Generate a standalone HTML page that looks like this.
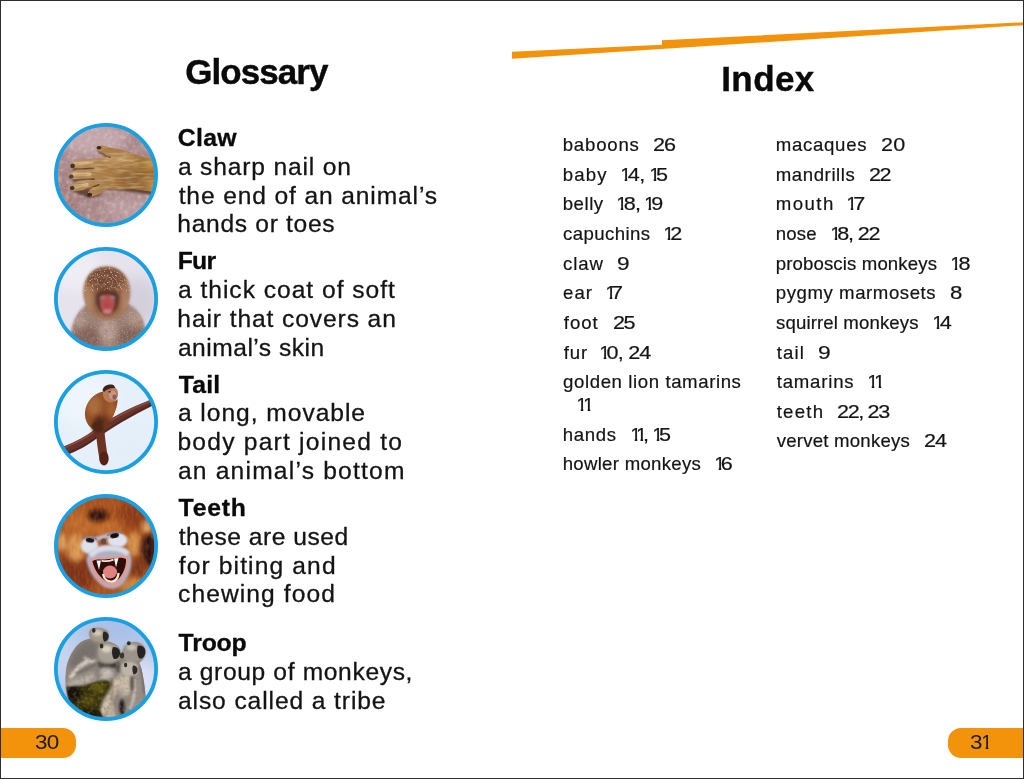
<!DOCTYPE html>
<html lang="en">
<head>
<meta charset="utf-8">
<title>Glossary and Index</title>
<style>
html,body{margin:0;padding:0;background:#fff;}
body{width:1024px;height:779px;overflow:hidden;position:relative;font-family:"Liberation Sans",sans-serif;color:#151313;}
#page{position:absolute;left:0;top:0;width:1024px;height:779px;background:#fff;overflow:hidden;}
#frame{position:absolute;left:0;top:0;width:1022px;height:777px;border:1px solid #2e2e2e;pointer-events:none;}
#swoosh{position:absolute;left:0;top:0;}
h1,p,div,span{margin:0;padding:0;}
.h1,.term,.def,.ix,.pn{position:absolute;white-space:nowrap;display:block;}
.h1{font-weight:bold;font-size:35.0px;line-height:35.0px;color:#0a0a0a;-webkit-text-stroke:0.4px #0a0a0a;}
.term{font-weight:bold;font-size:24.8px;line-height:24.8px;color:#0a0a0a;-webkit-text-stroke:0.3px #0a0a0a;}
.def{font-size:24.6px;line-height:24.6px;-webkit-text-stroke:0.3px #151313;}
.ix{font-size:18.6px;line-height:18.6px;-webkit-text-stroke:0.2px #151313;}
.ix i,.pn i{font-style:normal;display:inline-block;letter-spacing:0;transform:scaleX(.88);margin:0 calc(var(--ls,0px) - 0.173em) 0 -0.088em;clip-path:polygon(0 0,100% 0,100% 69%,65% 69%,65% 100%,41% 100%,41% 69%,0 69%)}
.pn{font-size:19.4px;line-height:19.4px;color:#1c1c1c;}
.tab{position:absolute;top:728px;height:30px;background:#f3920b;}
.photo{position:absolute;left:54px;width:104px;height:104px;overflow:visible;}
</style>
</head>
<body>
<div id="page">
<svg id="swoosh" width="1024" height="70" viewBox="0 0 1024 70"><polygon points="512,51.7 662,44.8 662,40.3 1024,22.3 1024,25.2 512,58.8" fill="#f3920b"/></svg>
<div class="tab" style="left:0;width:76px;border-radius:0 13px 13px 0"></div>
<div class="tab" style="left:948px;width:76px;border-radius:13px 0 0 13px"></div>
<!-- Glossary -->
<section id="glossary">
<h1 class="h1" id="hg" style="left:185.17px;top:54.00px;letter-spacing:-0.934px">Glossary</h1>
<div class="term" id="t1" style="left:177.80px;top:126.00px;letter-spacing:0.306px">Claw</div>
<div class="def" id="d1a" style="left:177.94px;top:155.00px;letter-spacing:0.825px">a sharp nail on</div>
<div class="def" id="d1b" style="left:178.68px;top:184.00px;letter-spacing:0.869px">the end of an animal’s</div>
<div class="def" id="d1c" style="left:177.33px;top:212.00px;letter-spacing:0.688px">hands or toes</div>
<div class="term" id="t2" style="left:177.78px;top:249.00px;letter-spacing:-0.792px">Fur</div>
<div class="def" id="d2a" style="left:177.94px;top:278.00px;letter-spacing:0.986px">a thick coat of soft</div>
<div class="def" id="d2b" style="left:177.33px;top:307.00px;letter-spacing:0.899px">hair that covers an</div>
<div class="def" id="d2c" style="left:177.94px;top:336.00px;letter-spacing:0.492px">animal’s skin</div>
<div class="term" id="t3" style="left:178.68px;top:373.00px;letter-spacing:0.217px">Tail</div>
<div class="def" id="d3a" style="left:177.94px;top:401.00px;letter-spacing:0.963px">a long, movable</div>
<div class="def" id="d3b" style="left:177.43px;top:430.00px;letter-spacing:1.232px">body part joined to</div>
<div class="def" id="d3c" style="left:177.94px;top:459.00px;letter-spacing:1.205px">an animal’s bottom</div>
<div class="term" id="t4" style="left:178.58px;top:496.00px;letter-spacing:0.749px">Teeth</div>
<div class="def" id="d4a" style="left:178.68px;top:525.00px;letter-spacing:0.522px">these are used</div>
<div class="def" id="d4b" style="left:178.71px;top:554.00px;letter-spacing:1.13px">for biting and</div>
<div class="def" id="d4c" style="left:178.00px;top:582.00px;letter-spacing:1.094px">chewing food</div>
<div class="term" id="t5" style="left:178.58px;top:631.00px;letter-spacing:-0.181px">Troop</div>
<div class="def" id="d5a" style="left:177.94px;top:660.00px;letter-spacing:0.648px">a group of monkeys,</div>
<div class="def" id="d5b" style="left:177.94px;top:689.00px;letter-spacing:0.899px">also called a tribe</div>
<svg class="photo" id="ph-claw" style="top:123.4px" viewBox="0 0 104 104" role="img" aria-label="Claw">
<defs>
<clipPath id="c1"><circle cx="52" cy="52" r="49"/></clipPath>
<path id="hand1" d="M104 33 L92 35.5 L80 32 L69 28 L58 26 L48 23.5 L43.5 24.5 L43 27.5 L47 31 L54 34.5 L50 36 L40 36.3 L23 38 L17.5 40.5 L16.3 44 L19 46.8 L30 46.6 L22 48.2 L16 51 L15 54.5 L17.5 57.3 L30 57.4 L23 59.4 L17 62.4 L16 66 L18.5 68.8 L30 68 L38 65.5 L34.5 69.5 L33.3 72.5 L36.5 74.6 L46 72 L52.5 66.8 L64 67.5 L80 67 L104 70.5 Z"/>
<clipPath id="hc1"><use href="#hand1"/></clipPath>
<filter id="n1" x="0" y="0" width="100%" height="100%">
<feTurbulence type="fractalNoise" baseFrequency="0.13" numOctaves="3" seed="4" result="t"/>
<feColorMatrix in="t" type="matrix" values="0 0 0 0 0.56  0 0 0 0 0.40  0 0 0 0 0.40  1.8 0 0 0 -0.6"/>
</filter>
<filter id="n1b" x="0" y="0" width="100%" height="100%">
<feTurbulence type="fractalNoise" baseFrequency="0.24" numOctaves="2" seed="9" result="t"/>
<feColorMatrix in="t" type="matrix" values="0 0 0 0 0.86  0 0 0 0 0.76  0 0 0 0 0.78  0 2 0 0 -0.9"/>
</filter>
<filter id="n1f" x="0" y="0" width="100%" height="100%">
<feTurbulence type="fractalNoise" baseFrequency="0.07 0.4" numOctaves="2" seed="3" result="t"/>
<feColorMatrix in="t" type="matrix" values="0 0 0 0 0.36  0 0 0 0 0.22  0 0 0 0 0.10  2.6 0 0 0 -1.05"/>
</filter>
<filter id="n1g" x="0" y="0" width="100%" height="100%">
<feTurbulence type="fractalNoise" baseFrequency="0.08 0.45" numOctaves="2" seed="12" result="t"/>
<feColorMatrix in="t" type="matrix" values="0 0 0 0 0.92  0 0 0 0 0.76  0 0 0 0 0.5  0 2.6 0 0 -1.15"/>
</filter>
<filter id="b1" filterUnits="userSpaceOnUse" x="-12" y="-12" width="128" height="128"><feGaussianBlur stdDeviation="1.3"/></filter>
<filter id="b1s" filterUnits="userSpaceOnUse" x="-12" y="-12" width="128" height="128"><feGaussianBlur stdDeviation="0.7"/></filter>
<filter id="b1m" filterUnits="userSpaceOnUse" x="-12" y="-12" width="128" height="128"><feGaussianBlur stdDeviation="2.5"/></filter>
<filter id="b1l" filterUnits="userSpaceOnUse" x="-12" y="-12" width="128" height="128"><feGaussianBlur stdDeviation="5"/></filter>
<linearGradient id="g1" x1="0" y1="0" x2="1" y2="0"><stop offset="0" stop-color="#bd9260"/><stop offset="0.45" stop-color="#aa7a42"/><stop offset="1" stop-color="#9a6a2c"/></linearGradient>
</defs>
<g clip-path="url(#c1)">
<rect width="104" height="104" fill="#a68586"/>
<ellipse cx="38" cy="16" rx="36" ry="16" fill="#c2a6ab" filter="url(#b1l)"/>
<ellipse cx="18" cy="74" rx="16" ry="22" fill="#a17b7a" filter="url(#b1l)"/>
<ellipse cx="78" cy="86" rx="28" ry="12" fill="#b99a9c" filter="url(#b1l)"/>
<ellipse cx="88" cy="20" rx="14" ry="12" fill="#a58587" filter="url(#b1l)"/>
<rect width="104" height="104" filter="url(#n1)" opacity="0.55"/>
<rect width="104" height="104" filter="url(#n1b)" opacity="0.42"/>
<g transform="translate(0 -0.9)">
<!-- shadow under hand -->
<path d="M17 46 L36 47 L20 49 Z M16 57 L36 58 L20 60 Z M17 68.5 L40 66 L50 64 L46 73.5 L35 76 Z M50 67 L70 69 L99 73 L99 66 L60 61 Z M43 26 L56 33.5 L54 36.5 L44 30 Z" fill="#4e3026" filter="url(#b1)" opacity="0.8"/>
<!-- arm and hand -->
<use href="#hand1" fill="url(#g1)" filter="url(#b1s)"/>
<g clip-path="url(#hc1)">
<ellipse cx="84" cy="57" rx="22" ry="9" fill="#8f6230" opacity="0.75" filter="url(#b1m)"/>
<ellipse cx="64" cy="37" rx="18" ry="5" fill="#d2ab74" opacity="0.7" filter="url(#b1m)"/>
<ellipse cx="97" cy="42" rx="7" ry="6" fill="#c99848" opacity="0.8" filter="url(#b1m)"/>
<ellipse cx="98" cy="63" rx="5" ry="8" fill="#cba050" opacity="0.7" filter="url(#b1m)"/>
<path d="M21 41.5 L38 40 M20 52.5 L36 52 M21 64 L33 62.5" stroke="#dcbd8e" stroke-width="3.4" stroke-linecap="round" filter="url(#b1s)" opacity="0.85" fill="none"/>
<path d="M20 47 L40 46.2 M19 57.6 L40 57.2 M30 68.4 L45 62.5 M46 30.5 L56 35" stroke="#4a2c1e" stroke-width="1.5" stroke-linecap="round" filter="url(#b1s)" opacity="0.85" fill="none"/>
<rect width="104" height="104" filter="url(#n1f)" opacity="0.85"/>
<rect width="104" height="104" filter="url(#n1g)" opacity="0.35"/>
</g>
<!-- nails / tips -->
<ellipse cx="18.6" cy="43.8" rx="2.4" ry="2.2" fill="#463024" filter="url(#b1s)"/>
<ellipse cx="17.2" cy="54.6" rx="2.3" ry="2.1" fill="#56402f" filter="url(#b1s)"/>
<ellipse cx="18.2" cy="66" rx="2.3" ry="2.1" fill="#463024" filter="url(#b1s)"/>
<ellipse cx="35.6" cy="72.6" rx="2.6" ry="2" fill="#3a261c" filter="url(#b1s)"/>
<ellipse cx="45" cy="25.6" rx="2.4" ry="1.7" fill="#3a2620" filter="url(#b1s)"/>
</g>
</g>
<circle cx="52" cy="52" r="50.1" fill="none" stroke="#1b9fe3" stroke-width="3.8"/>
</svg>
<svg class="photo" id="ph-fur" style="top:246.9px" viewBox="0 0 104 104" role="img" aria-label="Fur">
<defs>
<clipPath id="c2"><circle cx="52" cy="52" r="49"/></clipPath>
<path id="body2" d="M15 104 C15 84 21 66 32 58 C40 53 66 53 74 57 C87 63 94 80 94 104 Z"/>
<path id="head2" d="M52.5 19.5 C66.5 19.5 76 30.5 76 45 C76 60 66.5 72.5 53 72.5 C39.5 72.5 29.5 60 29.5 45 C29.5 30.5 38.5 19.5 52.5 19.5 Z"/>
<clipPath id="bc2"><use href="#body2"/></clipPath>
<clipPath id="hc2"><use href="#head2"/></clipPath>
<filter id="b2" filterUnits="userSpaceOnUse" x="-12" y="-12" width="128" height="128"><feGaussianBlur stdDeviation="1.5"/></filter>
<filter id="b2s" filterUnits="userSpaceOnUse" x="-12" y="-12" width="128" height="128"><feGaussianBlur stdDeviation="0.8"/></filter>
<filter id="b2m" filterUnits="userSpaceOnUse" x="-12" y="-12" width="128" height="128"><feGaussianBlur stdDeviation="3"/></filter>
<filter id="b2l" filterUnits="userSpaceOnUse" x="-12" y="-12" width="128" height="128"><feGaussianBlur stdDeviation="7"/></filter>
<filter id="n2" x="0" y="0" width="100%" height="100%">
<feTurbulence type="fractalNoise" baseFrequency="0.22" numOctaves="2" seed="5" result="t"/>
<feColorMatrix in="t" type="matrix" values="0 0 0 0 0.32  0 0 0 0 0.2  0 0 0 0 0.17  2.4 0 0 0 -1.0"/>
</filter>
<filter id="n2w" x="0" y="0" width="100%" height="100%">
<feTurbulence type="fractalNoise" baseFrequency="0.6" numOctaves="2" seed="8" result="t"/>
<feColorMatrix in="t" type="matrix" values="0 0 0 0 0.93  0 0 0 0 0.88  0 0 0 0 0.88  0 3.4 0 0 -1.8"/>
</filter>
<radialGradient id="g2h" cx="0.5" cy="0.42" r="0.62"><stop offset="0" stop-color="#784a35"/><stop offset="0.6" stop-color="#8e5c3b"/><stop offset="1" stop-color="#ab7d58"/></radialGradient>
</defs>
<g clip-path="url(#c2)">
<rect width="104" height="104" fill="#e6e3ed"/>
<ellipse cx="84" cy="56" rx="22" ry="26" fill="#d3d0dc" filter="url(#b2l)"/>
<ellipse cx="22" cy="24" rx="26" ry="20" fill="#efedf4" filter="url(#b2l)"/>
<!-- body -->
<use href="#body2" fill="#9c7f73" filter="url(#b2)"/>
<g clip-path="url(#bc2)">
<ellipse cx="34" cy="92" rx="14" ry="12" fill="#7e5f55" opacity="0.85" filter="url(#b2m)"/>
<ellipse cx="76" cy="90" rx="14" ry="10" fill="#7c5d53" opacity="0.85" filter="url(#b2m)"/>
<ellipse cx="54" cy="84" rx="9" ry="12" fill="#bfa69c" opacity="0.8" filter="url(#b2m)"/>
<ellipse cx="82" cy="70" rx="8" ry="8" fill="#bb9e8f" opacity="0.8" filter="url(#b2m)"/>
<ellipse cx="25" cy="72" rx="7" ry="8" fill="#b9a094" opacity="0.8" filter="url(#b2m)"/>
<rect width="104" height="104" filter="url(#n2)" opacity="0.55"/>
<rect width="104" height="104" filter="url(#n2w)" opacity="0.28"/>
</g>
<!-- head -->
<use href="#head2" fill="url(#g2h)" filter="url(#b2)"/>
<g clip-path="url(#hc2)">
<ellipse cx="52" cy="31" rx="18" ry="10" fill="#70452f" opacity="0.8" filter="url(#b2m)"/>
<ellipse cx="34.5" cy="52" rx="5" ry="14" fill="#bd9270" opacity="0.8" filter="url(#b2m)"/>
<ellipse cx="71.5" cy="52" rx="5" ry="14" fill="#ba8d6a" opacity="0.8" filter="url(#b2m)"/>
<rect width="104" height="104" filter="url(#n2)" opacity="0.45"/>
<rect y="0" width="104" height="44" filter="url(#n2w)" opacity="0.6"/>
</g>
<!-- face -->
<path d="M42 50 C42 45.5 47 44.5 53 44.5 C59 44.5 65 45.5 65 50 C66 58 62 66 53.5 68 C45 66 41 58 42 50 Z" fill="#50302a" filter="url(#b2)" opacity="0.85"/>
<path d="M46 51 C46 48.2 48.6 47.2 53.3 47.2 C58 47.2 60.8 48.2 60.8 51 C61.3 57 59.8 62.5 58 65 C56.6 67 50.2 67 48.8 65 C47 62.5 45.5 57 46 51 Z" fill="#b9504e" filter="url(#b2s)"/>
<ellipse cx="53.4" cy="64.4" rx="4.2" ry="2.6" fill="#c87c83" filter="url(#b2s)"/>
<ellipse cx="53.4" cy="58" rx="3.2" ry="2.8" fill="#b1464b" filter="url(#b2s)"/>
<ellipse cx="48.8" cy="50.8" rx="2.5" ry="1.8" fill="#7d8685" filter="url(#b2s)"/>
<ellipse cx="58.4" cy="50.8" rx="2.5" ry="1.8" fill="#7d8685" filter="url(#b2s)"/>
<path d="M45 47 C49 45 58 45 62 47" stroke="#5a3328" stroke-width="1.8" fill="none" filter="url(#b2s)"/>
</g>
<circle cx="52" cy="52" r="50.1" fill="none" stroke="#1b9fe3" stroke-width="3.8"/>
</svg>
<svg class="photo" id="ph-tail" style="top:370.4px" viewBox="0 0 104 104" role="img" aria-label="Tail">
<defs>
<clipPath id="c3"><circle cx="52" cy="52" r="49"/></clipPath>
<filter id="b3" filterUnits="userSpaceOnUse" x="-12" y="-12" width="128" height="128"><feGaussianBlur stdDeviation="1.2"/></filter>
<filter id="b3s" filterUnits="userSpaceOnUse" x="-12" y="-12" width="128" height="128"><feGaussianBlur stdDeviation="0.6"/></filter>
<filter id="b3m" filterUnits="userSpaceOnUse" x="-12" y="-12" width="128" height="128"><feGaussianBlur stdDeviation="2.4"/></filter>
<filter id="b3l" filterUnits="userSpaceOnUse" x="-12" y="-12" width="128" height="128"><feGaussianBlur stdDeviation="8"/></filter>
<filter id="n3" x="0" y="0" width="100%" height="100%">
<feTurbulence type="fractalNoise" baseFrequency="0.3" numOctaves="2" seed="2" result="t"/>
<feColorMatrix in="t" type="matrix" values="0 0 0 0 0.25  0 0 0 0 0.10  0 0 0 0 0.08  2.4 0 0 0 -1.0"/>
</filter>
<path id="body3" d="M49 21.5 C40 23 32 32 31 42 C30.5 49 33 55 38 58.5 L44 62 L50 61 L56 52 C60 45 64 36 63.5 29 C60 33 54 31 51 27 Z"/>
<clipPath id="bc3"><use href="#body3"/></clipPath>
<linearGradient id="g3" x1="0" y1="0" x2="1" y2="1"><stop offset="0" stop-color="#93532b"/><stop offset="0.5" stop-color="#955226"/><stop offset="1" stop-color="#6c341b"/></linearGradient>
</defs>
<g clip-path="url(#c3)">
<rect width="104" height="104" fill="#e5f0fa"/>
<ellipse cx="30" cy="30" rx="30" ry="26" fill="#eef5fc" filter="url(#b3l)"/>
<ellipse cx="80" cy="82" rx="26" ry="20" fill="#e3eef9" filter="url(#b3l)"/>
<!-- branch -->
<path d="M9.5 76.5 C22 71.5 32 66 40 60 C52 51 68 41 97 29.5 L98.5 35.5 C70 49.5 54 60 41 69.5 C33 75.5 24 80.5 12 85.5 Z" fill="#673229" filter="url(#b3s)"/>
<path d="M11 77.5 C23 72.5 33 67 41 61 C53 52 69 42 97 30.8" stroke="#8d5240" stroke-width="1.8" fill="none" opacity="0.8" filter="url(#b3s)"/>
<path d="M12 84 C24 79.5 33 74.5 41 68.5 C54 59 70 48.5 98.5 34.5" stroke="#4a221b" stroke-width="2" fill="none" opacity="0.7" filter="url(#b3s)"/>
<!-- tail -->
<path d="M46 58 C46.6 70 48 79 50 90" stroke="#6e3320" stroke-width="8.6" fill="none" stroke-linecap="round" filter="url(#b3s)"/>
<ellipse cx="50" cy="88.5" rx="4.6" ry="7" fill="#562418" filter="url(#b3s)"/>
<!-- body -->
<use href="#body3" fill="url(#g3)" filter="url(#b3s)"/>
<g clip-path="url(#bc3)">
<ellipse cx="40" cy="36" rx="7" ry="10" fill="#b87a45" opacity="0.7" filter="url(#b3m)"/>
<ellipse cx="46" cy="54" rx="7" ry="8" fill="#4a2418" opacity="0.9" filter="url(#b3m)"/>
<ellipse cx="58" cy="40" rx="4" ry="8" fill="#c47a38" opacity="0.6" filter="url(#b3m)"/>
<rect width="104" height="104" filter="url(#n3)" opacity="0.35"/>
</g>
<!-- legs on branch -->
<ellipse cx="43.5" cy="57" rx="6" ry="6" fill="#4e2519" filter="url(#b3)"/>
<ellipse cx="53" cy="54.5" rx="3.6" ry="4" fill="#6a3422" filter="url(#b3)"/>
<!-- head -->
<ellipse cx="56.5" cy="24" rx="7.6" ry="8.4" fill="#b87c55" filter="url(#b3s)"/>
<path d="M48.5 20.5 C49.5 16 53 14.6 57 14.6 C60 14.6 61 16.5 61 18 C58 17.6 53 18.5 50 22 Z" fill="#3e2420" filter="url(#b3s)"/>
<ellipse cx="58.6" cy="25" rx="3.6" ry="4.6" fill="#c9958a" filter="url(#b3s)"/>
<ellipse cx="60.5" cy="27" rx="2.2" ry="2.4" fill="#8a5e55" filter="url(#b3s)"/>
<ellipse cx="55.6" cy="21.8" rx="1.3" ry="1" fill="#5a3a30" filter="url(#b3s)"/>
</g>
<circle cx="52" cy="52" r="50.1" fill="none" stroke="#1b9fe3" stroke-width="3.8"/>
</svg>
<svg class="photo" id="ph-teeth" style="top:493.9px" viewBox="0 0 104 104" role="img" aria-label="Teeth">
<defs>
<clipPath id="c4"><circle cx="52" cy="52" r="49"/></clipPath>
<filter id="b4" filterUnits="userSpaceOnUse" x="-12" y="-12" width="128" height="128"><feGaussianBlur stdDeviation="1.3"/></filter>
<filter id="b4s" filterUnits="userSpaceOnUse" x="-12" y="-12" width="128" height="128"><feGaussianBlur stdDeviation="0.6"/></filter>
<filter id="b4m" filterUnits="userSpaceOnUse" x="-12" y="-12" width="128" height="128"><feGaussianBlur stdDeviation="2.6"/></filter>
<filter id="b4l" filterUnits="userSpaceOnUse" x="-12" y="-12" width="128" height="128"><feGaussianBlur stdDeviation="5"/></filter>
<filter id="n4" x="0" y="0" width="100%" height="100%">
<feTurbulence type="fractalNoise" baseFrequency="0.35 0.12" numOctaves="2" seed="6" result="t"/>
<feColorMatrix in="t" type="matrix" values="0 0 0 0 0.35  0 0 0 0 0.10  0 0 0 0 0.03  2.4 0 0 0 -1.0"/>
</filter>
<filter id="n4w" x="0" y="0" width="100%" height="100%">
<feTurbulence type="fractalNoise" baseFrequency="0.35 0.12" numOctaves="2" seed="14" result="t"/>
<feColorMatrix in="t" type="matrix" values="0 0 0 0 0.95  0 0 0 0 0.70  0 0 0 0 0.42  0 2.4 0 0 -1.0"/>
</filter>
</defs>
<g clip-path="url(#c4)">
<rect width="104" height="104" fill="#aa521e"/>
<ellipse cx="20" cy="80" rx="22" ry="20" fill="#7e3013" filter="url(#b4l)"/>
<ellipse cx="82" cy="20" rx="18" ry="14" fill="#8a3a18" filter="url(#b4l)"/>
<ellipse cx="26" cy="30" rx="16" ry="14" fill="#c06a2c" filter="url(#b4l)"/>
<ellipse cx="52" cy="34" rx="16" ry="8" fill="#c7702e" filter="url(#b4l)"/>
<ellipse cx="22" cy="54" rx="9" ry="14" fill="#dc9a55" filter="url(#b4m)"/>
<ellipse cx="8" cy="48" rx="5" ry="9" fill="#dfa465" filter="url(#b4m)"/>
<ellipse cx="80" cy="50" rx="7" ry="12" fill="#d8954f" filter="url(#b4m)"/>
<ellipse cx="93" cy="33" rx="5" ry="7" fill="#dfa66c" filter="url(#b4m)"/>
<ellipse cx="95" cy="56" rx="8" ry="16" fill="#2c100a" filter="url(#b4m)"/>
<ellipse cx="84" cy="74" rx="8" ry="10" fill="#7a3418" filter="url(#b4m)"/>
<ellipse cx="80" cy="92" rx="14" ry="8" fill="#c9833f" filter="url(#b4m)"/>
<ellipse cx="44" cy="21.5" rx="10.5" ry="6" fill="#2a0f08" filter="url(#b4m)"/>
<rect width="104" height="104" filter="url(#n4)" opacity="0.3"/>
<rect width="104" height="104" filter="url(#n4w)" opacity="0.12"/>
<!-- face pale patches -->
<ellipse cx="35.6" cy="51.6" rx="8.8" ry="8.4" fill="#dcdfec" filter="url(#b4)"/>
<ellipse cx="63.4" cy="46.2" rx="10" ry="7.4" fill="#dfe2ee" filter="url(#b4)"/>
<path d="M40 46 C46 43 52 42 58 41" stroke="#b9bccb" stroke-width="4" fill="none" filter="url(#b4)"/>
<!-- muzzle -->
<path d="M32.5 64 C35.5 56 46 52 55 52 C64.5 52 74 55 77 62 C79 71 75 84 67 91.5 C62 95.5 54.5 95.5 49.5 92.5 C41 87 32.5 75 32.5 64 Z" fill="#aeb1c4" filter="url(#b4)"/>
<path d="M36.5 62 C40 56 48 54 55 54 C63 54 70 55.5 74 60" stroke="#d9dce9" stroke-width="5.5" fill="none" filter="url(#b4)"/>
<!-- lips -->
<path d="M36 66 C40 62 48 64 55 63 C62 62 70.5 60 74.5 63.5 C76 72 71 83 65 89 C61 92.5 54 92.5 49.5 89.5 C42 84 36.5 75 36 66 Z" fill="#e39a92" filter="url(#b4s)"/>
<!-- mouth interior -->
<path d="M38.5 67 C43 64.5 49 66 55 65 C61 64 67.5 62.5 72 65 C72.5 72 69 81 63.5 86 C60 89 54.5 89 51 86.5 C44.5 82 39.5 74 38.5 67 Z" fill="#2e1010" filter="url(#b4s)"/>
<!-- tongue -->
<ellipse cx="56" cy="78" rx="7" ry="6.4" fill="#e0837e" filter="url(#b4s)"/>
<!-- lower teeth -->
<path d="M49 80 C50 85.5 54 88 58.5 87.5 C61.5 87 64 84 64.6 79" stroke="#f3e6da" stroke-width="2.3" fill="none" filter="url(#b4s)"/>
<!-- upper teeth -->
<path d="M42.5 66.5 L45 76 L47 66.5 Z M60 64.5 L62 73.5 L64.5 64 Z" fill="#fbf4ea" filter="url(#b4s)"/>
<path d="M47.5 66.6 C51 67.6 56 67 59.5 65.6" stroke="#f1e4d4" stroke-width="1.8" fill="none" filter="url(#b4s)"/>
<!-- eyes and nose -->
<ellipse cx="36" cy="46.2" rx="4.2" ry="2.4" fill="#1e1414" filter="url(#b4s)" transform="rotate(8 36 46.2)"/>
<ellipse cx="60.5" cy="41.4" rx="4.4" ry="2.6" fill="#1a1010" filter="url(#b4s)" transform="rotate(-12 60.5 41.4)"/>
<ellipse cx="49.5" cy="47.5" rx="2.6" ry="3" fill="#6a4a4a" filter="url(#b4s)"/>
<path d="M29 44.5 C33 42 39 43 43 45.5" stroke="#7f8094" stroke-width="1.6" fill="none" filter="url(#b4s)"/>
<path d="M53 41.5 C58 38 64 37.5 69 39.5" stroke="#7f8094" stroke-width="1.6" fill="none" filter="url(#b4s)"/>
</g>
<circle cx="52" cy="52" r="50.1" fill="none" stroke="#1b9fe3" stroke-width="3.8"/>
</svg>
<svg class="photo" id="ph-troop" style="top:617.4px" viewBox="0 0 104 104" role="img" aria-label="Troop">
<defs>
<clipPath id="c5"><circle cx="52" cy="52" r="49"/></clipPath>
<filter id="b5" filterUnits="userSpaceOnUse" x="-12" y="-12" width="128" height="128"><feGaussianBlur stdDeviation="1.1"/></filter>
<filter id="b5s" filterUnits="userSpaceOnUse" x="-12" y="-12" width="128" height="128"><feGaussianBlur stdDeviation="0.6"/></filter>
<filter id="b5m" filterUnits="userSpaceOnUse" x="-12" y="-12" width="128" height="128"><feGaussianBlur stdDeviation="2"/></filter>
<filter id="b5l" filterUnits="userSpaceOnUse" x="-12" y="-12" width="128" height="128"><feGaussianBlur stdDeviation="8"/></filter>
<filter id="n5" x="0" y="0" width="100%" height="100%">
<feTurbulence type="fractalNoise" baseFrequency="0.28" numOctaves="2" seed="7" result="t"/>
<feColorMatrix in="t" type="matrix" values="0 0 0 0 0.22  0 0 0 0 0.2  0 0 0 0 0.18  2.6 0 0 0 -1.1"/>
</filter>
<filter id="n5g" x="0" y="0" width="100%" height="100%">
<feTurbulence type="fractalNoise" baseFrequency="0.3" numOctaves="2" seed="11" result="t"/>
<feColorMatrix in="t" type="matrix" values="0 0 0 0 0.46  0 0 0 0 0.40  0 0 0 0 0.10  0 2.8 0 0 -1.25"/>
</filter>
<path id="grp5" d="M36.5 12.5 C40 10 49 10.2 53.5 14 C55.6 17 55.4 21.5 53.5 24.5 C58 25 63.5 27.5 65.8 31.5 L67.5 37 C69.5 30.5 74 25 80 25 C87 25 92 29.5 91.4 36 C91 40.5 88 44 85.5 45.5 C88.5 54 90.5 66 91.8 80 L82 100 L44 103 L24 94 L13.5 80 C11 70 11 58 12.5 50 C14.5 40 20 30 27 25 C30 23 33.5 22 36.5 21.5 C34.8 18.5 34.8 15 36.5 12.5 Z"/>
<clipPath id="gc5"><use href="#grp5"/></clipPath>
<path id="rock5" d="M12.5 70 L30 68.5 L43 64.5 L52.5 63 L57.5 66.5 L54.5 74 L48.5 82 L45.8 93 L50 102 L26 98 L15 84 Z"/>
<clipPath id="rc5"><use href="#rock5"/></clipPath>
</defs>
<g clip-path="url(#c5)">
<rect width="104" height="104" fill="#b7c9ea"/>
<ellipse cx="88" cy="72" rx="24" ry="30" fill="#d9e1f4" filter="url(#b5l)"/>
<ellipse cx="62" cy="10" rx="30" ry="14" fill="#a9bfe6" filter="url(#b5l)"/>
<ellipse cx="8" cy="40" rx="12" ry="26" fill="#c8d6ef" filter="url(#b5l)"/>
<!-- monkeys -->
<use href="#grp5" fill="#8f867d" filter="url(#b5s)"/>
<g clip-path="url(#gc5)">
<!-- A back -->
<path d="M35 23 C26 26 18 36 15 48 L22 52 L34 44 L42 40 L44 28 Z" fill="#77706b" filter="url(#b5m)"/>
<path d="M17 60 C22 52 28 47 34 44" stroke="#d8cfc2" stroke-width="4.2" fill="none" stroke-linecap="round" filter="url(#b5)"/>
<path d="M14 64 C24 62 36 58 44 52 L44 62 L30 68 L14 70 Z" fill="#bdb4aa" filter="url(#b5m)"/>
<path d="M30 40 C34 44 38 46 42 44" stroke="#cfc6ba" stroke-width="3" fill="none" filter="url(#b5)"/>
<!-- B neck shadow and chest -->
<path d="M44 44.5 C50 48 57 48 63 44.5 L63 51 L45 51 Z" fill="#3a3431" filter="url(#b5)"/>
<ellipse cx="52" cy="57" rx="7" ry="6.5" fill="#c8c0b6" filter="url(#b5m)"/>
<ellipse cx="43" cy="56" rx="3" ry="7" fill="#7a726c" opacity="0.8" filter="url(#b5m)"/>
<!-- D body -->
<path d="M65 57 C70 55 76 57 79 61 L78 76 L68 80 L64 70 Z" fill="#cbbca8" filter="url(#b5m)"/>
<!-- C body -->
<path d="M82 46 C87 54 90 66 91 80 L84 96 L76 92 L80 74 L80 60 Z" fill="#9a9088" filter="url(#b5m)"/>
<path d="M80 62 C82 72 80 84 76 92" stroke="#c9beb2" stroke-width="3" fill="none" filter="url(#b5)"/>
<ellipse cx="78" cy="66" rx="2" ry="9" fill="#4a423e" opacity="0.8" filter="url(#b5)"/>
<ellipse cx="64" cy="50" rx="2.2" ry="6" fill="#4a423e" opacity="0.8" filter="url(#b5)"/>
<!-- limb -->
<path d="M63 64 C60 76 54 86 47 97" stroke="#d2c0a6" stroke-width="7" fill="none" stroke-linecap="round" filter="url(#b5)"/>
<path d="M58 84 L62 100 L50 102 Z" fill="#c4b49e" filter="url(#b5)"/>
<ellipse cx="68" cy="90" rx="2.6" ry="8" fill="#1c1814" filter="url(#b5)"/>
<path d="M22 56 C30 54 37 50 43 46 M57 62 C59 70 59 76 57 84 M87 50 C89 58 90 66 90 76" stroke="#5a534e" stroke-width="2.6" fill="none" opacity="0.55" filter="url(#b5)"/>
<rect width="104" height="104" filter="url(#n5)" opacity="0.5"/>
</g>
<!-- rock -->
<use href="#rock5" fill="#38310e" filter="url(#b5)"/>
<g clip-path="url(#rc5)">
<ellipse cx="19" cy="77" rx="8" ry="8" fill="#12100a" filter="url(#b5m)"/>
<ellipse cx="34" cy="97" rx="14" ry="4.5" fill="#17140b" filter="url(#b5m)"/>
<ellipse cx="44" cy="71" rx="7" ry="5" fill="#645818" opacity="0.9" filter="url(#b5m)"/>
<ellipse cx="35" cy="84" rx="7" ry="5" fill="#544a14" opacity="0.9" filter="url(#b5m)"/>
<rect width="104" height="104" filter="url(#n5g)" opacity="0.3"/>
</g>
<!-- heads -->
<path d="M36.5 13 C40 10.2 49 10.4 53 14 C55.4 17 55.2 21.5 53 24.5 C49 26.5 41 25.5 37 22 C34.8 19 34.8 15.5 36.5 13 Z" fill="#a39a8c" filter="url(#b5)"/>
<ellipse cx="43.5" cy="16" rx="4.4" ry="3" fill="#d2c9b6" filter="url(#b5)"/>
<path d="M49.5 14.5 C53 14.5 55 17 54.6 20 C54.2 23 52 25 50 24.6 C48.6 22 48.4 17 49.5 14.5 Z" fill="#2b2624" filter="url(#b5s)"/>
<ellipse cx="39.8" cy="13.4" rx="1.7" ry="2.3" fill="#2f2a28" filter="url(#b5s)"/>
<path d="M45 29.5 C49 25.5 58 25.5 63 29 C66.4 32 66.6 39 63.5 43 C59 46.5 50 46.5 46 42.5 C43.6 39 43.4 33 45 29.5 Z" fill="#a8a093" filter="url(#b5)"/>
<ellipse cx="52.5" cy="32" rx="5" ry="3.4" fill="#d8d0c0" filter="url(#b5)"/>
<path d="M59 30 C63.5 29.5 66.4 32.5 66 36.5 C65.6 40 63 42.4 60 42 C57.6 39 57.6 33 59 30 Z" fill="#262220" filter="url(#b5s)"/>
<ellipse cx="47.6" cy="29" rx="1.8" ry="2.6" fill="#2f2a28" filter="url(#b5s)"/>
<path d="M69.5 30 C72.5 25.5 82 24 88 27.5 C92 30.5 92.4 38 88.5 42 C84 45.5 75 45.5 71 42.5 C68 39.5 67.6 33.5 69.5 30 Z" fill="#9c948a" filter="url(#b5)"/>
<ellipse cx="77.5" cy="30.5" rx="5" ry="3" fill="#c8c0b3" filter="url(#b5)"/>
<path d="M84 28.5 C88.5 28 91.8 31 91.4 35.4 C91 39.5 88.4 41.8 85.4 41.4 C82.8 38.5 82.6 31.5 84 28.5 Z" fill="#262220" filter="url(#b5s)"/>
<ellipse cx="74.8" cy="26.2" rx="1.9" ry="2" fill="#2f2a28" filter="url(#b5s)"/>
<ellipse cx="68" cy="38.5" rx="2.2" ry="3" fill="#3a3432" filter="url(#b5s)"/>
<path d="M68 47 C71 43.5 79 43.5 82.5 47 C84.4 50 84 55.5 81 58 C77 60 71 59.5 68.5 56.5 C66.6 53.5 66.6 49.5 68 47 Z" fill="#bdb5a9" filter="url(#b5)"/>
<path d="M79 48.5 C82 48.5 83.8 50.8 83.4 53.6 C83 56.4 81.4 57.8 79.6 57.4 C78.2 55 78 50.5 79 48.5 Z" fill="#2e2926" filter="url(#b5s)"/>
<ellipse cx="71.6" cy="48" rx="1.6" ry="2.2" fill="#2f2a28" filter="url(#b5s)"/>
</g>
<circle cx="52" cy="52" r="50.1" fill="none" stroke="#1b9fe3" stroke-width="3.8"/>
</svg>
</section>
<!-- Index -->
<section id="index">
<h1 class="h1" id="hi" style="left:721.21px;top:61.00px;letter-spacing:0.426px">Index</h1>
<span class="ix" id="l1w" style="left:562.73px;top:136.00px;letter-spacing:0.808px">baboons</span>
<span class="ix" id="l1n" style="left:653.20px;top:136.00px;letter-spacing:-0.915px;transform:scaleX(1.16);transform-origin:0 0">26</span>
<span class="ix" id="l2w" style="left:562.73px;top:166.00px;letter-spacing:1.19px">baby</span>
<span class="ix" id="l2n" style="left:621.54px;top:166.00px;letter-spacing:-0.49px;--ls:-0.49px;transform:scaleX(1.16);transform-origin:0 0"><i>1</i>4, <i>1</i>5</span>
<span class="ix" id="l3w" style="left:562.73px;top:195.00px;letter-spacing:0.532px">belly</span>
<span class="ix" id="l3n" style="left:618.44px;top:195.00px;letter-spacing:-0.596px;--ls:-0.596px;transform:scaleX(1.16);transform-origin:0 0"><i>1</i>8, <i>1</i>9</span>
<span class="ix" id="l4w" style="left:563.06px;top:225.00px;letter-spacing:0.414px">capuchins</span>
<span class="ix" id="l4n" style="left:665.04px;top:225.00px;letter-spacing:-0.971px;--ls:-0.971px;transform:scaleX(1.16);transform-origin:0 0"><i>1</i>2</span>
<span class="ix" id="l5w" style="left:563.06px;top:255.00px;letter-spacing:0.88px">claw</span>
<span class="ix" id="l5n" style="left:617.01px;top:255.00px;letter-spacing:0.0px;transform:scaleX(1.217);transform-origin:0 0">9</span>
<span class="ix" id="l6w" style="left:563.06px;top:284.00px;letter-spacing:1.025px">ear</span>
<span class="ix" id="l6n" style="left:606.74px;top:284.00px;letter-spacing:-1.979px;--ls:-1.979px;transform:scaleX(1.16);transform-origin:0 0"><i>1</i>7</span>
<span class="ix" id="l7w" style="left:563.70px;top:314.00px;letter-spacing:1.026px">foot</span>
<span class="ix" id="l7n" style="left:612.60px;top:314.00px;letter-spacing:-1.237px;transform:scaleX(1.16);transform-origin:0 0">25</span>
<span class="ix" id="l8w" style="left:563.70px;top:344.00px;letter-spacing:0.85px">fur</span>
<span class="ix" id="l8n" style="left:601.44px;top:344.00px;letter-spacing:-0.694px;--ls:-0.694px;transform:scaleX(1.16);transform-origin:0 0"><i>1</i>0, 24</span>
<span class="ix" id="l9w" style="left:563.09px;top:373.00px;letter-spacing:0.601px">golden lion tamarins</span>
<span class="ix" id="l10n" style="left:577.60px;top:396.00px;letter-spacing:-0.3px;--ls:-0.3px;transform:scaleX(1.16);transform-origin:0 0"><i>1</i><i>1</i></span>
<span class="ix" id="l11w" style="left:562.66px;top:426.00px;letter-spacing:0.665px">hands</span>
<span class="ix" id="l11n" style="left:631.74px;top:426.00px;letter-spacing:-0.735px;--ls:-0.735px;transform:scaleX(1.16);transform-origin:0 0"><i>1</i><i>1</i>, <i>1</i>5</span>
<span class="ix" id="l12w" style="left:562.66px;top:455.00px;letter-spacing:0.298px">howler monkeys</span>
<span class="ix" id="l12n" style="left:716.24px;top:455.00px;letter-spacing:-1.376px;--ls:-1.376px;transform:scaleX(1.16);transform-origin:0 0"><i>1</i>6</span>
<span class="ix" id="r1w" style="left:775.69px;top:136.00px;letter-spacing:0.721px">macaques</span>
<span class="ix" id="r1n" style="left:881.30px;top:136.00px;letter-spacing:0.119px;transform:scaleX(1.16);transform-origin:0 0">20</span>
<span class="ix" id="r2w" style="left:775.69px;top:166.00px;letter-spacing:0.599px">mandrills</span>
<span class="ix" id="r2n" style="left:869.00px;top:166.00px;letter-spacing:-1.315px;transform:scaleX(1.16);transform-origin:0 0">22</span>
<span class="ix" id="r3w" style="left:775.69px;top:195.00px;letter-spacing:1.485px">mouth</span>
<span class="ix" id="r3n" style="left:847.84px;top:195.00px;letter-spacing:-0.971px;--ls:-0.971px;transform:scaleX(1.16);transform-origin:0 0"><i>1</i>7</span>
<span class="ix" id="r4w" style="left:775.69px;top:225.00px;letter-spacing:0.19px">nose</span>
<span class="ix" id="r4n" style="left:832.04px;top:225.00px;letter-spacing:-1.017px;--ls:-1.017px;transform:scaleX(1.16);transform-origin:0 0"><i>1</i>8, 22</span>
<span class="ix" id="r5w" style="left:775.73px;top:255.00px;letter-spacing:0.131px">proboscis monkeys</span>
<span class="ix" id="r5n" style="left:951.74px;top:255.00px;letter-spacing:0.041px;--ls:0.041px;transform:scaleX(1.16);transform-origin:0 0"><i>1</i>8</span>
<span class="ix" id="r6w" style="left:775.73px;top:284.00px;letter-spacing:0.572px">pygmy marmosets</span>
<span class="ix" id="r6n" style="left:950.20px;top:284.00px;letter-spacing:0.0px;transform:scaleX(1.193);transform-origin:0 0">8</span>
<span class="ix" id="r7w" style="left:776.12px;top:314.00px;letter-spacing:0.122px">squirrel monkeys</span>
<span class="ix" id="r7n" style="left:933.94px;top:314.00px;letter-spacing:-0.647px;--ls:-0.647px;transform:scaleX(1.16);transform-origin:0 0"><i>1</i>4</span>
<span class="ix" id="r8w" style="left:776.68px;top:344.00px;letter-spacing:1.178px">tail</span>
<span class="ix" id="r8n" style="left:817.60px;top:344.00px;letter-spacing:0.0px;transform:scaleX(1.227);transform-origin:0 0">9</span>
<span class="ix" id="r9w" style="left:776.68px;top:373.00px;letter-spacing:0.808px">tamarins</span>
<span class="ix" id="r9n" style="left:868.50px;top:373.00px;letter-spacing:-0.3px;--ls:-0.3px;transform:scaleX(1.16);transform-origin:0 0"><i>1</i><i>1</i></span>
<span class="ix" id="r10w" style="left:776.68px;top:403.00px;letter-spacing:1.254px">teeth</span>
<span class="ix" id="r10n" style="left:837.40px;top:403.00px;letter-spacing:-1.171px;transform:scaleX(1.16);transform-origin:0 0">22, 23</span>
<span class="ix" id="r11w" style="left:776.72px;top:432.00px;letter-spacing:0.223px">vervet monkeys</span>
<span class="ix" id="r11n" style="left:924.00px;top:432.00px;letter-spacing:-0.87px;transform:scaleX(1.16);transform-origin:0 0">24</span>
</section>
<span class="pn" id="p30" style="left:34.60px;top:733.00px;letter-spacing:-0.7px;transform:scaleX(1.16);transform-origin:0 0">30</span>
<span class="pn" id="p31" style="left:970.30px;top:733.00px;letter-spacing:-0.375px;--ls:-0.375px;transform:scaleX(1.16);transform-origin:0 0">3<i>1</i></span>
<div id="frame"></div>
</div>
</body>
</html>
